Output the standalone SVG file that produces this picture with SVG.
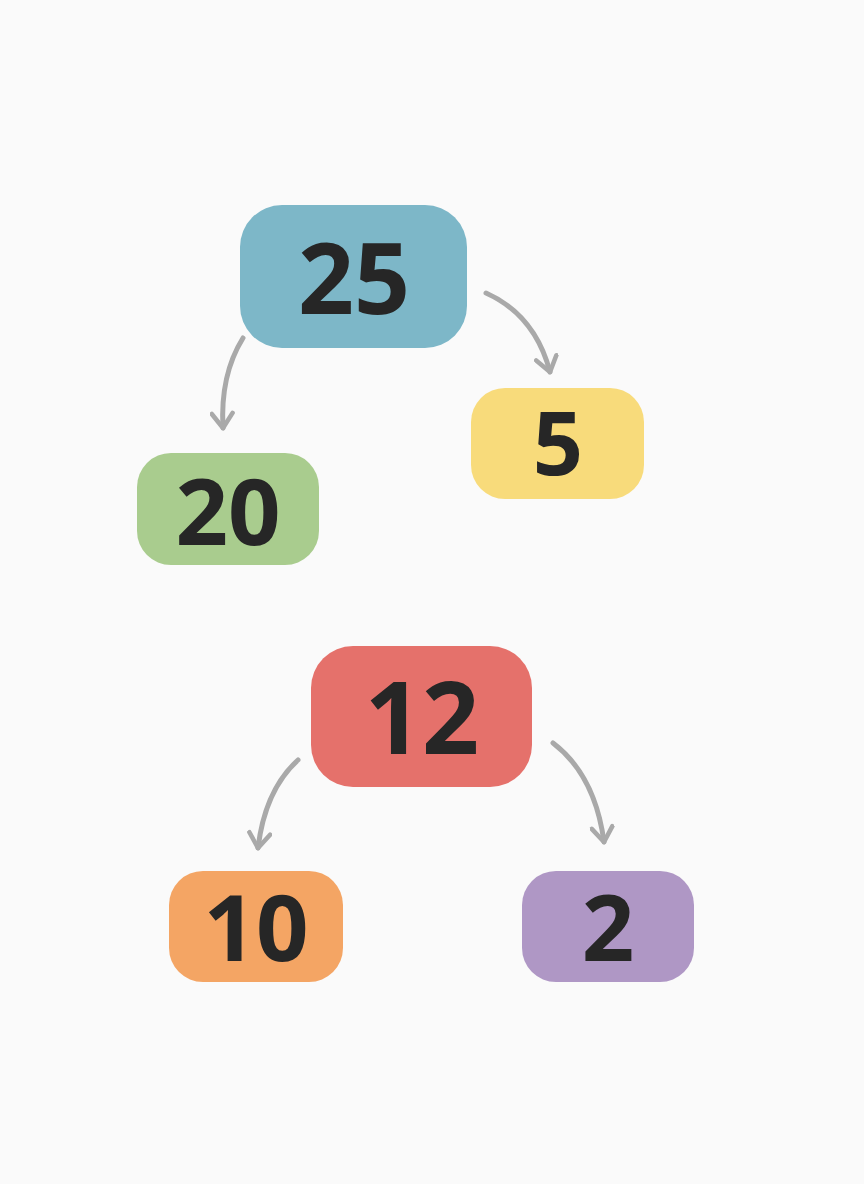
<svg xmlns="http://www.w3.org/2000/svg" width="864" height="1184" viewBox="0 0 864 1184">
<style>
.n text{font-family:"Open Sans","DejaVu Sans",sans-serif;font-weight:bold;fill:#262626;text-anchor:middle}
.c path{fill:none;stroke:#a9a9a9;stroke-width:5;stroke-linecap:round}
</style>
<defs>
<marker id="ah" viewBox="0 0 12 12" refX="9" refY="6" markerWidth="5" markerHeight="5" orient="auto" markerUnits="strokeWidth">
<path d="M2,1 L9,6 L2,11" fill="none" stroke="#a9a9a9" stroke-width="2.2" stroke-linecap="round" stroke-linejoin="round"/>
</marker>
</defs>
<rect width="864" height="1184" fill="#fafafa"/>
<g class="c">
<path d="M243,338 Q220,375 223,428" marker-end="url(#ah)"/>
<path d="M486,293 Q535,315 550,372" marker-end="url(#ah)"/>
<path d="M298,760 Q265,790 258,848" marker-end="url(#ah)"/>
<path d="M553,743 Q595,775 604,842" marker-end="url(#ah)"/>
</g>
<g class="n" id="n25"><rect x="240" y="205" width="227" height="143" rx="42" fill="#7db7c8"/><text x="354" y="314" font-size="98">25</text></g>
<g class="n" id="n5"><rect x="471" y="388" width="173" height="111" rx="34" fill="#f8db7b"/><text x="558" y="475" font-size="88">5</text></g>
<g class="n" id="n20"><rect x="137" y="453" width="182" height="112" rx="34" fill="#a9cc8e"/><text x="228" y="545" font-size="92">20</text></g>
<g class="n" id="n12"><rect x="311" y="646" width="221" height="141" rx="42" fill="#e5716b"/><text x="422" y="754" font-size="100">12</text></g>
<g class="n" id="n10"><rect x="169" y="871" width="174" height="111" rx="34" fill="#f4a564"/><text x="256" y="961" font-size="92">10</text></g>
<g class="n" id="n2"><rect x="522" y="871" width="172" height="111" rx="34" fill="#af97c5"/><text x="608" y="961" font-size="92">2</text></g>
</svg>
